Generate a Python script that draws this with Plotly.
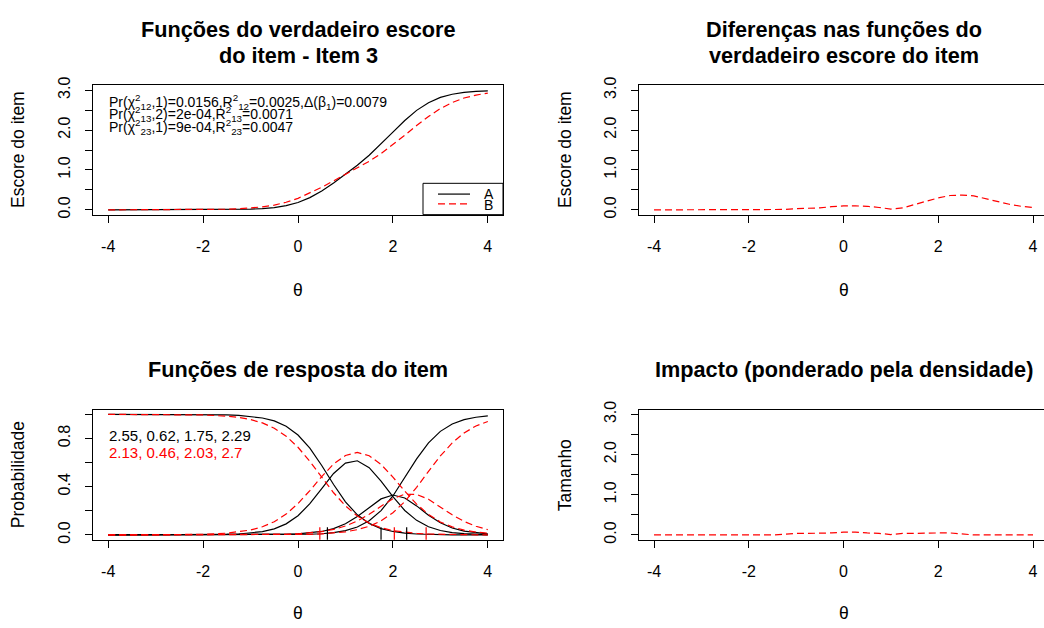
import plotly.graph_objects as go

# ---------------- data ----------------
theta = [-4, -3.5, -3, -2.5, -2, -1.5, -1.25, -1, -0.75, -0.5, -0.25, 0, 0.25, 0.5,
         0.75, 1, 1.25, 1.5, 1.75, 2, 2.25, 2.5, 2.75, 3, 3.25, 3.5, 3.75, 4]

# group A (black, solid) -- category response curves and expected item score
P0_A = [1.0, 1.0, 1.0, 1.0, 0.999, 0.996, 0.992, 0.984, 0.970, 0.946, 0.902, 0.829, 0.720, 0.576,
        0.418, 0.275, 0.167, 0.096, 0.053, 0.029, 0.015, 0.008, 0.004, 0.002, 0.001, 0.001, 0.0, 0.0]
P1_A = [0.0, 0.0, 0.0, 0.0, 0.001, 0.004, 0.008, 0.015, 0.028, 0.051, 0.092, 0.159, 0.259, 0.385,
        0.510, 0.596, 0.615, 0.558, 0.447, 0.317, 0.203, 0.121, 0.068, 0.037, 0.020, 0.011, 0.006, 0.003]
P2_A = [0, 0, 0, 0, 0, 0, 0, 0.001, 0.001, 0.002, 0.005, 0.009, 0.016, 0.029,
        0.053, 0.093, 0.153, 0.228, 0.299, 0.331, 0.307, 0.241, 0.164, 0.101, 0.058, 0.032, 0.018, 0.009]
P3_A = [0, 0, 0, 0, 0, 0, 0, 0, 0, 0.001, 0.002, 0.003, 0.006, 0.010,
        0.019, 0.036, 0.066, 0.118, 0.202, 0.323, 0.475, 0.631, 0.764, 0.859, 0.920, 0.956, 0.976, 0.987]
E_A = [0, 0, 0, 0, 0.001, 0.005, 0.009, 0.017, 0.032, 0.058, 0.106, 0.185, 0.307, 0.474,
       0.674, 0.890, 1.117, 1.368, 1.649, 1.949, 2.241, 2.494, 2.687, 2.818, 2.898, 2.944, 2.970, 2.984]

# group B (red, dashed)
P0_B = [1.0, 1.0, 0.999, 0.998, 0.995, 0.985, 0.975, 0.957, 0.929, 0.885, 0.819, 0.727, 0.610, 0.479,
        0.350, 0.241, 0.157, 0.098, 0.060, 0.036, 0.022, 0.013, 0.008, 0.005, 0.003, 0.002, 0.001, 0.001]
P1_B = [0.0, 0.0, 0.001, 0.002, 0.005, 0.015, 0.025, 0.041, 0.068, 0.110, 0.173, 0.260, 0.368, 0.484,
        0.588, 0.659, 0.684, 0.657, 0.585, 0.480, 0.363, 0.256, 0.170, 0.108, 0.067, 0.040, 0.024, 0.014]
P2_B = [0, 0, 0, 0, 0, 0, 0.001, 0.001, 0.002, 0.003, 0.006, 0.010, 0.017, 0.028,
        0.046, 0.074, 0.116, 0.172, 0.238, 0.300, 0.338, 0.336, 0.296, 0.233, 0.167, 0.112, 0.072, 0.044]
P3_B = [0, 0, 0, 0, 0, 0, 0, 0, 0.001, 0.001, 0.002, 0.003, 0.005, 0.009,
        0.016, 0.026, 0.044, 0.072, 0.117, 0.184, 0.277, 0.395, 0.527, 0.655, 0.763, 0.846, 0.904, 0.941]
E_B = [0, 0, 0.001, 0.002, 0.006, 0.016, 0.027, 0.045, 0.074, 0.120, 0.190, 0.289, 0.418, 0.567,
       0.727, 0.886, 1.047, 1.218, 1.412, 1.632, 1.871, 2.114, 2.342, 2.538, 2.692, 2.803, 2.878, 2.927]

# absolute difference of the true-score functions
diff_score = [0, 0, 0, 0, 0, 0, 0.01, 0.03, 0.04, 0.05, 0.08, 0.10, 0.10, 0.09,
              0.06, 0.02, 0.05, 0.13, 0.21, 0.30, 0.36, 0.37, 0.35, 0.28, 0.20, 0.14, 0.09, 0.06]
# impact weighted by density
impact = [0, 0, 0, 0, 0, 0, 0.02, 0.04, 0.04, 0.04, 0.05, 0.07, 0.07, 0.05,
          0.04, 0.01, 0.04, 0.04, 0.05, 0.05, 0.05, 0.03, 0.0, 0.0, 0.0, 0.0, 0.0, 0.0]

# item parameters printed in the response-function panel
a_A, b_A = 2.55, [0.62, 1.75, 2.29]
a_B, b_B = 2.13, [0.46, 2.03, 2.7]

group_labels = ["A", "B"]
stat_lines = [
    "Pr(χ<sup>2</sup><sub>12</sub>,1)=0.0156,R<sup>2</sup><sub>12</sub>=0.0025,Δ(β<sub>1</sub>)=0.0079",
    "Pr(χ<sup>2</sup><sub>13</sub>,2)=2e-04,R<sup>2</sup><sub>13</sub>=0.0071",
    "Pr(χ<sup>2</sup><sub>23</sub>,1)=9e-04,R<sup>2</sup><sub>23</sub>=0.0047",
]
titles = [
    ["Funções do verdadeiro escore", "do item - Item 3"],
    ["Diferenças nas funções do", "verdadeiro escore do item"],
    ["Funções de resposta do item"],
    ["Impacto (ponderado pela densidade)"],
]
x_ticks = [-4, -2, 0, 2, 4]
score_ticks = [0, 0.5, 1, 1.5, 2, 2.5, 3]
score_ticktext = ["0.0", " ", "1.0", " ", "2.0", " ", "3.0"]
prob_ticks = [0, 0.2, 0.4, 0.6, 0.8, 1.0]
prob_ticktext = ["0.0", " ", "0.4", " ", "0.8", " "]

# ---------------- figure ----------------
W, H = 1044, 628
FONT = "Liberation Sans, Arial, sans-serif"


def px(x):
    return x / W


def py(y):
    return 1 - y / H


BLACK = dict(color="black", width=1.2)
RED = dict(color="red", width=1.2, dash="7px,4px")

fig = go.Figure()

# panel 1: true score functions
fig.add_trace(go.Scatter(x=theta, y=E_A, mode="lines", line=BLACK, xaxis="x", yaxis="y"))
fig.add_trace(go.Scatter(x=theta, y=E_B, mode="lines", line=RED, xaxis="x", yaxis="y"))

# panel 2: difference
fig.add_trace(go.Scatter(x=theta, y=diff_score, mode="lines", line=RED, xaxis="x2", yaxis="y2"))

# panel 3: item response functions
for curve in (P0_A, P1_A, P2_A, P3_A):
    fig.add_trace(go.Scatter(x=theta, y=curve, mode="lines", line=BLACK, xaxis="x3", yaxis="y3"))
for curve in (P0_B, P1_B, P2_B, P3_B):
    fig.add_trace(go.Scatter(x=theta, y=curve, mode="lines", line=RED, xaxis="x3", yaxis="y3"))
fig.add_trace(go.Scatter(x=b_A, y=[0] * len(b_A), mode="markers", xaxis="x3", yaxis="y3",
                         marker=dict(symbol="line-ns", size=11, line=dict(color="black", width=1.2))))
fig.add_trace(go.Scatter(x=b_B, y=[0] * len(b_B), mode="markers", xaxis="x3", yaxis="y3",
                         marker=dict(symbol="line-ns", size=11, line=dict(color="red", width=1.2))))

# panel 4: impact
fig.add_trace(go.Scatter(x=theta, y=impact, mode="lines", line=RED, xaxis="x4", yaxis="y4"))

common_x = dict(tickvals=x_ticks, ticktext=[str(v) for v in x_ticks], ticks="outside", ticklen=7,
                tickwidth=1, tickcolor="black", showline=True, linecolor="black", linewidth=1,
                mirror=True, showgrid=False, zeroline=False,
                tickfont=dict(size=16, color="black", family=FONT), ticklabelstandoff=10)
common_y = dict(ticks="outside", ticklen=7, tickwidth=1, tickcolor="black", showline=True,
                linecolor="black", linewidth=1, showgrid=False, zeroline=False, tickangle=-90,
                tickfont=dict(size=16, color="black", family=FONT), ticklabelstandoff=9)

top_dom = [py(210), py(78)]
bot_dom = [py(542), py(409)]
left_dom = [px(93), px(503)]
right_dom = [px(639), 1.0]

fig.update_layout(
    width=W, height=H, margin=dict(l=0, r=0, t=0, b=0),
    paper_bgcolor="white", plot_bgcolor="white", showlegend=False,
    font=dict(family=FONT, color="black"),
    xaxis=dict(common_x, domain=left_dom, range=[-4.32, 4.32], anchor="y"),
    yaxis=dict(common_y, domain=top_dom, range=[-0.12, 3.12], anchor="x", mirror=True,
               tickvals=score_ticks, ticktext=score_ticktext),
    xaxis2=dict(common_x, domain=right_dom, range=[-4.317, 4.232], anchor="y2"),
    yaxis2=dict(common_y, domain=top_dom, range=[-0.12, 3.12], anchor="x2", mirror=False,
                tickvals=score_ticks, ticktext=score_ticktext),
    xaxis3=dict(common_x, domain=left_dom, range=[-4.32, 4.32], anchor="y3"),
    yaxis3=dict(common_y, domain=bot_dom, range=[-0.04, 1.04], anchor="x3", mirror=True,
                tickvals=prob_ticks, ticktext=prob_ticktext),
    xaxis4=dict(common_x, domain=right_dom, range=[-4.317, 4.232], anchor="y4"),
    yaxis4=dict(common_y, domain=bot_dom, range=[-0.12, 3.12], anchor="x4", mirror=False,
                tickvals=score_ticks, ticktext=score_ticktext),
)

ann = []
# titles
title_centers = [(298, 21), (844, 21), (298, 368), (844, 368)]
for (cx, cy), lines in zip(title_centers, titles):
    for i, t in enumerate(lines):
        ann.append(dict(x=px(cx), y=py(cy + 26 * i), xref="paper", yref="paper", text="<b>%s</b>" % t,
                        showarrow=False, xanchor="center", yanchor="middle",
                        font=dict(size=21.7, color="black", family=FONT)))
# axis titles
for cx in (298, 844):
    for cy in (287, 617):
        ann.append(dict(x=px(cx), y=py(cy), xref="paper", yref="paper", text="θ", showarrow=False,
                        xanchor="center", yanchor="middle", font=dict(size=17.5, family=FONT)))
for (cx, cy, t) in [(18, 144, "Escore do item"), (565, 144, "Escore do item"),
                    (18, 476, "Probabilidade"), (565, 476, "Tamanho")]:
    ann.append(dict(x=px(cx), y=py(cy), xref="paper", yref="paper", text=t, showarrow=False,
                    textangle=-90, xanchor="center", yanchor="middle", font=dict(size=17.5, family=FONT)))
# statistics text in panel 1
for i, t in enumerate(stat_lines):
    ann.append(dict(x=px(107), y=py(95 + 12.5 * i), xref="paper", yref="paper", text=t, showarrow=False,
                    xanchor="left", yanchor="middle", font=dict(size=14, family=FONT, color="black")))
# legend in panel 1
ann.append(dict(x=px(482), y=py(189), xref="paper", yref="paper", text=group_labels[0], showarrow=False,
                xanchor="left", yanchor="middle", font=dict(size=14, family=FONT)))
ann.append(dict(x=px(482), y=py(200), xref="paper", yref="paper", text=group_labels[1], showarrow=False,
                xanchor="left", yanchor="middle", font=dict(size=14, family=FONT)))
# parameter text in panel 3
txt_A = ", ".join("%g" % v for v in [a_A] + b_A)
txt_B = ", ".join("%g" % v for v in [a_B] + b_B)
ann.append(dict(x=px(107), y=py(436), xref="paper", yref="paper", text=txt_A, showarrow=False,
                xanchor="left", yanchor="middle", font=dict(size=15, family=FONT, color="black")))
ann.append(dict(x=px(107), y=py(453), xref="paper", yref="paper", text=txt_B, showarrow=False,
                xanchor="left", yanchor="middle", font=dict(size=15, family=FONT, color="red")))

shapes = [
    dict(type="rect", xref="paper", yref="paper", x0=px(423), x1=px(503), y0=py(210), y1=py(178),
         line=dict(color="black", width=1), fillcolor="white", layer="below"),
    dict(type="line", xref="paper", yref="paper", x0=px(438), x1=px(470), y0=py(189), y1=py(189),
         line=dict(color="black", width=1.2)),
    dict(type="line", xref="paper", yref="paper", x0=px(438), x1=px(470), y0=py(199), y1=py(199),
         line=dict(color="red", width=1.2, dash="7px,4px")),
]

fig.update_layout(annotations=ann, shapes=shapes)
fig.write_html("out.html", config={"displayModeBar": False},
               post_script="document.body.style.margin='0';document.body.style.padding='0';"
                           "document.documentElement.style.overflow='hidden';")
